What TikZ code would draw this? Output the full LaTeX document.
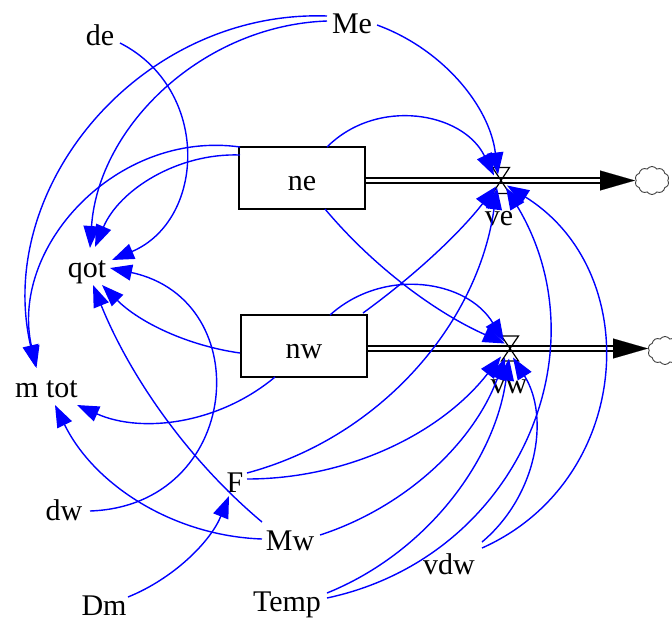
\documentclass[tikz,border=0pt]{standalone}
\usepackage{fontspec}
\setmainfont{Liberation Serif}
\usetikzlibrary{arrows.meta,shapes.symbols}
\begin{document}
\begin{tikzpicture}[x=1pt,y=1pt,
  lbl/.style={anchor=base, inner sep=0pt, font=\fontsize{30}{32}\selectfont},
  stock/.style={draw, fill=white, line width=1.3pt, minimum width=126pt, minimum height=62pt, inner sep=0pt, text height=24pt, text depth=0pt, font=\fontsize{30}{32}\selectfont},
  conn/.style={draw=blue, line width=1.4pt, -{Triangle[length=22pt,width=16pt]}},
  pipe/.style={draw=black, line width=1.7pt, double=white, double distance=3.8pt},
  flowtip/.style={-{Triangle[length=35pt,width=20pt]}, line width=0.1pt},
  valve/.style={draw=black, line width=1.2pt},
  cloudnode/.style={cloud, cloud puffs=10, cloud puff arc=110, aspect=1.25, draw=black!75, line width=0.9pt, minimum width=34pt, minimum height=28pt, inner sep=0pt}
]
\useasboundingbox (0,0) rectangle (672,-622);
% stocks, labels
\node[stock] (ne) at (302,-178) {ne};
\node[stock] (nw) at (304,-346) {nw};
\node[lbl] (de) at (100,-45) {de};
\node[lbl] (Me) at (352,-33) {Me};
\node[lbl] (qot) at (87,-277) {qot};
\node[lbl] (mtot) at (46.5,-397) {m tot};
\node[lbl] (dw) at (64,-520) {dw};
\node[lbl] (F) at (235,-492) {F};
\node[lbl] (Mw) at (290,-550) {Mw};
\node[lbl] (Dm) at (104,-615) {Dm};
\node[lbl] (Temp) at (287,-611) {Temp};
\node[lbl] (vdw) at (449,-574) {vdw};
\node[lbl] (velbl) at (499,-225) {ve};
\node[lbl] (vwlbl) at (509,-393) {vw};
\coordinate (vev) at (501,-180.5);
\coordinate (vwv) at (510,-348.5);
\node[cloudnode] (c1) at (652,-180.5) {};
\node[cloudnode] (c2) at (665,-350.5) {};
% pipes
\draw[pipe] ([yshift=-2.5pt]ne.east) -- ([shift={(-51,0)}]vev -| c1.center);
\draw[flowtip] ([shift={(-52,0)}]vev -| c1.center) -- ([shift={(-17,0)}]vev -| c1.center);
\draw[pipe] ([yshift=-2.5pt]nw.east) -- ([shift={(-51,0)}]vwv -| c2.center);
\draw[flowtip] ([shift={(-52,0)}]vwv -| c2.center) -- ([shift={(-17,0)}]vwv -| c2.center);
% valves
\draw[valve] ([shift={(-8.5,13)}]vev) -- ([shift={(8.5,13)}]vev) -- ([shift={(-8.5,-13)}]vev) -- ([shift={(8.5,-13)}]vev) -- cycle;
\draw[valve] ([shift={(-8.5,12.5)}]vwv) -- ([shift={(8.5,12.5)}]vwv) -- ([shift={(-8.5,-12.5)}]vwv) -- ([shift={(8.5,-12.5)}]vwv) -- cycle;
% connectors
\draw[conn] ([shift={(-25,12)}]Me.base) to[out=182,in=86,looseness=0.96] ([shift={(3,29)}]qot.base);
\draw[conn] ([shift={(-25,17)}]Me.base) to[out=178,in=103,looseness=1.04] ([shift={(-11,30)}]mtot.base);
\draw[conn] ([shift={(20,2)}]de.base) to[out=-27,in=23,looseness=1.2] ([shift={(25,17)}]qot.base);
\draw[conn] ([shift={(-62,23)}]ne.center) to[out=178,in=67,looseness=0.93] ([shift={(8,30)}]qot.base);
\draw[conn] ([shift={(-62,31)}]ne.center) to[out=172,in=103,looseness=1.06] ([shift={(-10,29)}]mtot.base);
\draw[conn] ([shift={(25,8)}]Me.base) to[out=-20,in=97,looseness=0.92] ([shift={(-3,6)}]vev);
\draw[conn] ([shift={(25,31)}]ne.center) to[out=45,in=116,looseness=1.07] ([shift={(-7,5)}]vev);
\draw[conn] ([shift={(23,-31)}]ne.center) to[out=-50,in=156,looseness=0.86] ([shift={(-5,5)}]vwv);
\draw[conn] ([shift={(59,33)}]nw.center) to[out=36,in=232,looseness=0.86] ([shift={(-5,-6)}]vev);
\draw[conn] ([shift={(26,31)}]nw.center) to[out=42,in=121,looseness=1.05] ([shift={(-6,7)}]vwv);
\draw[conn] ([shift={(-64,-7)}]nw.center) to[out=172,in=-45,looseness=0.88] ([shift={(15,-8)}]qot.base);
\draw[conn] ([shift={(-29,-31)}]nw.center) to[out=220,in=-24,looseness=0.92] ([shift={(30.5,-8)}]mtot.base);
\draw[conn] ([shift={(26,9)}]dw.base) to[out=2,in=-12,looseness=1.6] ([shift={(23,9)}]qot.base);
\draw[conn] ([shift={(-28,28)}]Mw.base) to[out=140,in=-68,looseness=0.86] ([shift={(6,-8)}]qot.base);
\draw[conn] ([shift={(-28,11)}]Mw.base) to[out=178,in=-64,looseness=0.92] ([shift={(8.5,-8)}]mtot.base);
\draw[conn] ([shift={(24,18)}]Dm.base) to[out=22,in=-112,looseness=0.88] ([shift={(-6,-4)}]F.base);
\draw[conn] ([shift={(12,19)}]F.base) to[out=15,in=-98,looseness=0.93] ([shift={(-4,-7)}]vev);
\draw[conn] ([shift={(12,13)}]F.base) to[out=0,in=232,looseness=0.9] ([shift={(-9,-8)}]vwv);
\draw[conn] ([shift={(30,15)}]Mw.base) to[out=18,in=250,looseness=0.9] ([shift={(-5,-9)}]vwv);
\draw[conn] ([shift={(40,18)}]Temp.base) to[out=22,in=262,looseness=0.91] ([shift={(-1,-10)}]vwv);
\draw[conn] ([shift={(40,13)}]Temp.base) to[out=12,in=-59,looseness=1.1] ([shift={(5,-7)}]vev);
\draw[conn] ([shift={(33,32)}]vdw.base) to[out=40,in=-58,looseness=0.97] ([shift={(3,-9)}]vwv);
\draw[conn] ([shift={(33,26)}]vdw.base) to[out=24,in=-32,looseness=1.16] ([shift={(6,-5)}]vev);
\end{tikzpicture}
\end{document}
